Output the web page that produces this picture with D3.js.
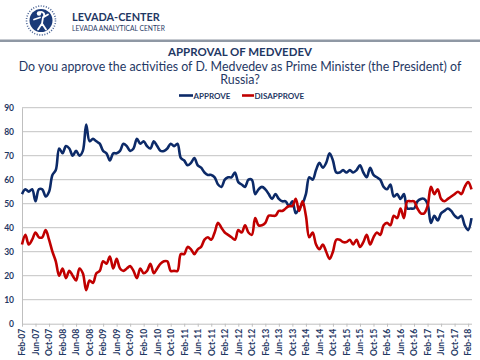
<!DOCTYPE html>
<html><head><meta charset="utf-8">
<script src="https://cdn.jsdelivr.net/npm/d3@7"></script>
<style>
html,body{margin:0;padding:0;background:#fff;}
svg{display:block;font-family:Lato,"Open Sans",sans-serif;}
</style></head>
<body><svg id="c" width="480" height="360"></svg>
<script>
// ---- data ----
const startMonth = new Date(2007, 1, 1);   // Feb-07
const endMonth = new Date(2018, 2, 1);     // Mar-18
const seriesNames = ["APPROVE", "DISAPPROVE"];
const approve = [
 54,56,55,56,51,56,56,53,55,62,64,73,
 71,74,73,70,72,70,72,83,76,77,76,75,
 72,71,68,71,71,72,75,74,72,73,77,75,
 76,74,73,76,74,72,72,73,75,74,75,69,
 68,66,67,69,66,65,63,62,62,61,58,57,
 60,61,61,63,59,58,57,60,60,54,56,57,
 56,54,52,54,52,51,51,49,51,46,48,50,
 54,61,60,64,67,65,67,71,68,63,63,64,
 63,64,63,64,66,63,61,65,62,61,60,57,
 56,58,53,54,52,54,48,48,48,51,52,52,
 50,42,45,43,46,47,48,47,45,44,45,41,
 39,44];
const disapprove = [
 33,37,33,35,38,36,36,39,35,30,26,20,
 23,19,22,20,18,23,21,14,18,17,21,22,
 26,25,28,23,27,23,22,23,24,22,19,23,
 21,22,25,21,23,25,26,26,22,22,22,29,
 29,32,31,29,31,32,35,36,35,38,42,40,
 38,37,36,35,39,38,41,38,37,44,41,41,
 42,45,45,45,47,47,48,49,49,52,47,51,
 45,36,38,33,31,33,30,27,30,35,35,34,
 34,35,33,35,32,34,37,33,36,38,37,41,
 42,41,45,44,48,44,51,51,51,48,46,46,
 49,57,54,56,52,51,52,53,54,55,54,57,
 59,56];
const xTickLabels = ["Feb-07","Jun-07","Oct-07","Feb-08","Jun-08","Oct-08","Feb-09","Jun-09","Oct-09",
 "Feb-10","Jun-10","Oct-10","Feb-11","Jun-11","Oct-11","Feb-12","Jun-12","Oct-12","Feb-13","Jun-13",
 "Oct-13","Feb-14","Jun-14","Oct-14","Feb-15","Jun-15","Oct-15","Feb-16","Jun-16","Oct-16","Feb-17",
 "Jun-17","Oct-17","Feb-18"];
const yTicks = [0,10,20,30,40,50,60,70,80,90];
const titleText = "APPROVAL OF MEDVEDEV";
const subtitleLines = ["Do you approve the activities of D. Medvedev as Prime Minister (the President) of","Russia?"];

// ---- build ----
const fmt = d3.timeFormat("%b-%y");
const months = d3.timeMonth.range(startMonth, d3.timeMonth.offset(endMonth, 1)).map(fmt);
const rows = months.map((m, i) => ({m, a: approve[i], d: disapprove[i]}));

const navy = "#1f3864";
const svg = d3.select("#c");

function fitText(sel, target, startSize) {
  sel.attr("font-size", startSize);
  const w = sel.node().getComputedTextLength();
  const s = startSize * target / w;
  sel.attr("font-size", s.toFixed(2));
  return s;
}

// header logo
const logo = svg.append("g").attr("transform", "translate(41,20.5)");
logo.append("circle").attr("r", 14.5).attr("fill", "none").attr("stroke", "#4a6496")
  .attr("stroke-width", 1.6).attr("stroke-dasharray", "1,1.6");
logo.append("circle").attr("r", 11.5).attr("fill", "#1a3a78");
logo.append("path").attr("d", "M-2,-8 C2,-10 5,-6 2,-3 L1,3 L5,9 M1,3 L-3,9 M-1,-3 L-7,-1 M2,-3 L7,-6")
  .attr("fill", "none").attr("stroke", "#fff").attr("stroke-width", 1.8).attr("stroke-linecap", "round");
logo.append("circle").attr("cx", -2).attr("cy", -7).attr("r", 2.2).attr("fill", "#fff");

const h1 = svg.append("text").attr("x", 72).attr("y", 20.7).attr("fill", navy)
  .attr("font-weight", "bold").text("LEVADA-CENTER");
fitText(h1, 88, 12);
const h2 = svg.append("text").attr("x", 72).attr("y", 31).attr("fill", navy)
  .text("LEVADA ANALYTICAL CENTER");
fitText(h2, 93, 6.5);

svg.append("rect").attr("x", 0).attr("y", 39.5).attr("width", 480).attr("height", 2.5).attr("fill", "#8f98a4");

// titles
const t = svg.append("text").attr("x", 240).attr("y", 55.5).attr("text-anchor", "middle")
  .attr("fill", navy).attr("font-weight", "bold").text(titleText);
fitText(t, 144, 12);
let subSize = 12.5;
subtitleLines.forEach((s, i) => {
  const st = svg.append("text").attr("x", 240).attr("y", 70.5 + i * 13.5).attr("text-anchor", "middle")
    .attr("fill", navy).text(s);
  if (i === 0) subSize = fitText(st, 443, 12.5); else st.attr("font-size", subSize.toFixed(2));
});

// scales
const x = d3.scalePoint().domain(months).range([22, 471.5]);
const y = d3.scaleLinear().domain([0, 90]).range([323.7, 107.7]);

// grid
svg.append("g").selectAll("line").data(yTicks.filter(v => v > 0)).join("line")
  .attr("x1", 22).attr("x2", 472).attr("y1", d => y(d)).attr("y2", d => y(d))
  .attr("stroke", "#c3c3c3").attr("stroke-width", 1);

// y axis
const yAx = svg.append("g").attr("transform", "translate(22,0)")
  .call(d3.axisLeft(y).tickValues(yTicks).tickSize(0).tickPadding(8));
yAx.select(".domain").attr("stroke", "#bfbfbf");
yAx.selectAll("text").attr("fill", navy).attr("font-size", 8.5).attr("font-weight", "bold")
  .attr("font-family", "Lato, sans-serif");

// x axis
const xAx = svg.append("g").attr("transform", "translate(0,323.7)")
  .call(d3.axisBottom(x).tickValues(xTickLabels).tickSize(3).tickSizeOuter(0));
xAx.select(".domain").attr("stroke", "#bfbfbf");
xAx.selectAll(".tick line").attr("stroke", "#bfbfbf");
xAx.selectAll("text").attr("fill", navy).attr("font-size", 8.6).attr("font-weight", "bold")
  .attr("font-family", "Lato, sans-serif")
  .attr("transform", "rotate(-90)").attr("text-anchor", "end")
  .attr("x", -5).attr("y", 0).attr("dy", "0.33em");

// lines
const line = key => d3.line().x(d => x(d.m)).y(d => y(d[key])).curve(d3.curveCatmullRom.alpha(0.5));
svg.append("path").datum(rows).attr("d", line("a")).attr("fill", "none")
  .attr("stroke", "#0c2a68").attr("stroke-width", 2.6).attr("stroke-linejoin", "round");
svg.append("path").datum(rows).attr("d", line("d")).attr("fill", "none")
  .attr("stroke", "#c00000").attr("stroke-width", 2.6).attr("stroke-linejoin", "round");

// legend
const legendItems = [
  {name: seriesNames[0], color: "#0c2a68", x0: 179, x1: 193},
  {name: seriesNames[1], color: "#c00000", x0: 242, x1: 254}
];
const lg = svg.append("g");
legendItems.forEach(it => {
  lg.append("line").attr("x1", it.x0).attr("x2", it.x1).attr("y1", 95.5).attr("y2", 95.5)
    .attr("stroke", it.color).attr("stroke-width", 2.6);
  lg.append("text").attr("x", it.x1 + 0.5).attr("y", 98.8).attr("fill", navy)
    .attr("font-size", 8).attr("font-weight", "bold").text(it.name);
});
</script></body></html>
